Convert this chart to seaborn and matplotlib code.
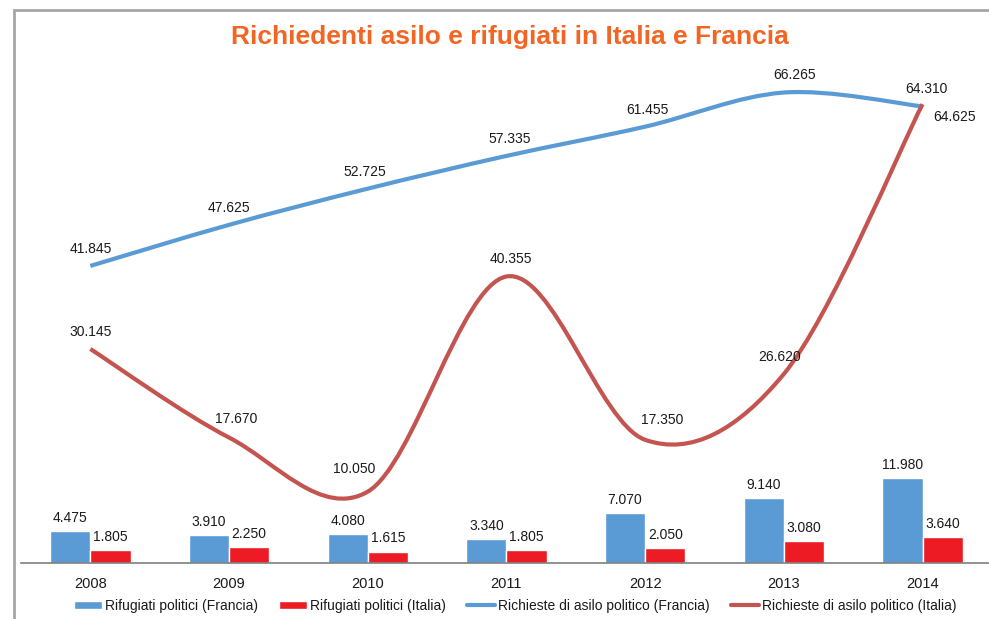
import numpy as np
import pandas as pd
import seaborn as sns
import matplotlib
matplotlib.use("Agg")
import matplotlib.pyplot as plt
from matplotlib.path import Path
from matplotlib.patches import PathPatch, Rectangle
from matplotlib.lines import Line2D
from matplotlib.patches import Patch

years = ["2008", "2009", "2010", "2011", "2012", "2013", "2014"]
rif_francia = [4475, 3910, 4080, 3340, 7070, 9140, 11980]
rif_italia = [1805, 2250, 1615, 1805, 2050, 3080, 3640]
rich_francia = [41845, 47625, 52725, 57335, 61455, 66265, 64310]
rich_italia = [30145, 17670, 10050, 40355, 17350, 26620, 64625]

title = "Richiedenti asilo e rifugiati in Italia e Francia"
series_names = ["Rifugiati politici (Francia)", "Rifugiati politici (Italia)",
                "Richieste di asilo politico (Francia)", "Richieste di asilo politico (Italia)"]

C_BLUE_BAR = "#5B9BD5"
C_RED_BAR = "#ED1C24"
C_BLUE_LINE = "#5B9BD5"
C_RED_LINE = "#C4544F"
C_TITLE = "#F26522"

def fmt(v):
    return f"{v:,}".replace(",", ".")

sns.set_theme(style="white")
plt.rcParams['font.family'] = ['Liberation Sans', 'DejaVu Sans']

W, H = 989, 619
fig = plt.figure(figsize=(W / 100, H / 100), dpi=100)

# frame
fig.patches.append(Rectangle((14 / W, -0.1), 1.1, (619 - 10) / H + 0.1, transform=fig.transFigure,
                             fill=False, edgecolor="#A6A6A6", linewidth=2.0))

ax_left, ax_bottom = 21 / W, (H - 563) / H
ax = fig.add_axes([ax_left, ax_bottom, 1 - ax_left, (563 - 60) / H])

df = pd.DataFrame({
    "year": years * 2,
    "value": rif_francia + rif_italia,
    "serie": [series_names[0]] * 7 + [series_names[1]] * 7,
})
sns.barplot(data=df, x="year", y="value", hue="serie", palette=[C_BLUE_BAR, C_RED_BAR],
            width=0.58, ax=ax, legend=False, saturation=1.0, dodge=True)

px_per_unit = 0.0071
ymax = (563 - 60) / px_per_unit
x0 = -0.5
x1 = x0 + (W - 21) / 138.7
ax.set_xlim(x0, x1)
ax.set_ylim(0, ymax)

# bar labels
for cont in ax.containers:
    for rect in cont:
        h = rect.get_height()
        ax.annotate(fmt(int(round(h))), (rect.get_x() + rect.get_width() / 2, h),
                    xytext=(0, 9.5), textcoords="offset points", ha="center", va="center",
                    fontsize=10, color="#1a1a1a")

# smooth lines (Catmull-Rom Bezier like Excel smoothing)
def smooth_path(xs, ys):
    pts = np.column_stack([xs, ys]).astype(float)
    n = len(pts)
    verts = [pts[0]]
    codes = [Path.MOVETO]
    for i in range(n - 1):
        p0 = pts[i - 1] if i > 0 else pts[i]
        p1 = pts[i]
        p2 = pts[i + 1]
        p3 = pts[i + 2] if i + 2 < n else pts[i + 1]
        c1 = p1 + (p2 - p0) / 6.0
        c2 = p2 - (p3 - p1) / 6.0
        verts += [c1, c2, p2]
        codes += [Path.CURVE4] * 3
    return Path(verts, codes)

xs = np.arange(len(years))
for vals, col in [(rich_francia, C_BLUE_LINE), (rich_italia, C_RED_LINE)]:
    ax.add_patch(PathPatch(smooth_path(xs, vals), facecolor="none", edgecolor=col,
                           linewidth=3.0, capstyle="butt", joinstyle="round", zorder=3))

# line labels
fr_off = [(0, 12), (0, 12), (-2, 12), (2, 12), (2, 12), (8, 12.5), (3, 12.5)]
it_off = [(0, 12.5), (5, 13), (-10, 16), (3, 12.5), (12, 14), (-3, 12.5), (23, -9.5)]
for i, v in enumerate(rich_francia):
    ax.annotate(fmt(v), (i, v), xytext=fr_off[i], textcoords="offset points",
                ha="center", va="center", fontsize=10, color="#1a1a1a", zorder=4)
for i, v in enumerate(rich_italia):
    ax.annotate(fmt(v), (i, v), xytext=it_off[i], textcoords="offset points",
                ha="center", va="center", fontsize=10, color="#1a1a1a", zorder=4)

sns.despine(ax=ax, left=True, top=True, right=True)
ax.spines["bottom"].set_color("#7F7F7F")
ax.spines["bottom"].set_linewidth(1.2)
ax.set_yticks([])
ax.set_xlabel("")
ax.set_ylabel("")
ax.tick_params(axis="x", length=0, pad=10, labelsize=10.5, labelcolor="#1a1a1a")
ax.patch.set_alpha(0)

fig.text(0.516, (H - 37) / H, title, ha="center", va="center", fontsize=19,
         fontweight="bold", color=C_TITLE)

handles = [Patch(facecolor=C_BLUE_BAR), Patch(facecolor=C_RED_BAR),
           Line2D([], [], color=C_BLUE_LINE, lw=3), Line2D([], [], color=C_RED_LINE, lw=3)]
fig.legend(handles, series_names, loc="center", bbox_to_anchor=(0.521, (H - 606) / H),
           ncol=4, frameon=False, fontsize=10, handlelength=2.0, handleheight=0.55,
           handletextpad=0.25, columnspacing=1.5, labelcolor="#1a1a1a")

fig.savefig("out.png", dpi=100)
